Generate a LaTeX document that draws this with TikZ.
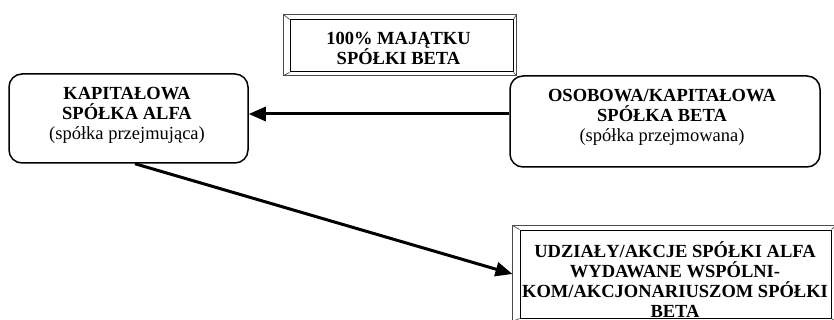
\documentclass[tikz,border=0pt]{standalone}
\usepackage{fontspec}
\setmainfont{Liberation Serif}
\usetikzlibrary{arrows.meta}

% Bevelled frame round a rectangular node: #1 node, #2..#5 = left, top, right, bottom rim widths
\newcommand\bevelframe[5]{%
  \draw[bevelout] ([shift={(-#2,-#3)}]#1.north west) coordinate (#1-onw)
    rectangle ([shift={(#4,#5)}]#1.south east) coordinate (#1-ose);
  \draw[bevelout] (#1.north west) -- (#1-onw)
    (#1.south east) -- (#1-ose)
    (#1.north east) -- (#1-ose |- #1-onw)
    (#1.south west) -- (#1-onw |- #1-ose);
}

\begin{document}
\begin{tikzpicture}[x=1pt,y=-1pt,
  rbox/.style={draw, line width=1.5pt, rounded corners=13pt, inner sep=0pt},
  bevelin/.style={draw, line width=1pt, inner sep=0pt},
  bevelout/.style={draw=black!70, line width=0.7pt},
  txt/.style={align=center, inner sep=0pt, font=\fontsize{18.5}{20}\selectfont},
  flow/.style={line width=3pt, -{Triangle[length=17pt,width=14pt]}}]

\useasboundingbox (0,0) rectangle (834,320);
\clip (0,0) rectangle (834,320);

% top: assets of the acquired company
\node[bevelin, minimum width=223pt, minimum height=52pt] (assets) at (401.5,46) {};
\bevelframe{assets}{6}{5}{3}{3}
\node[txt] (assetsT) at (398.5,48.5) {\textbf{100\% MAJĄTKU}\\\textbf{SPÓŁKI BETA}};

% acquiring company
\node[rbox, minimum width=239pt, minimum height=89pt] (alfa) at (128.5,118.5) {};
\node[txt] (alfaT) at (127,115) {\textbf{KAPITAŁOWA}\\\textbf{SPÓŁKA ALFA}\\(spółka przejmująca)};

% acquired company
\node[rbox, minimum width=310pt, minimum height=91pt] (beta) at (665,121.5) {};
\node[txt] (betaT) at (662,117) {\textbf{OSOBOWA/KAPITAŁOWA}\\\textbf{SPÓŁKA BETA}\\(spółka przejmowana)};

% shares issued to the partners
\node[bevelin, minimum width=311pt, minimum height=88pt] (shares) at (675.5,274) {};
\bevelframe{shares}{7}{4}{4}{3}
\node[txt] (sharesT) at (675,279.5) {\textbf{UDZIAŁY/AKCJE SPÓŁKI ALFA}\\\textbf{WYDAWANE WSPÓLNI-}\\\textbf{KOM/AKCJONARIUSZOM SPÓŁKI}\\\textbf{BETA}};

% connectors
\coordinate (h) at ([yshift=4.5pt]alfa.east);
\draw[flow] (beta.west |- h) -- (h);
\coordinate (s) at ([xshift=6.5pt]alfa.south);
\draw[flow] (s) -- (shares-onw |- shares.west);
\end{tikzpicture}
\end{document}
